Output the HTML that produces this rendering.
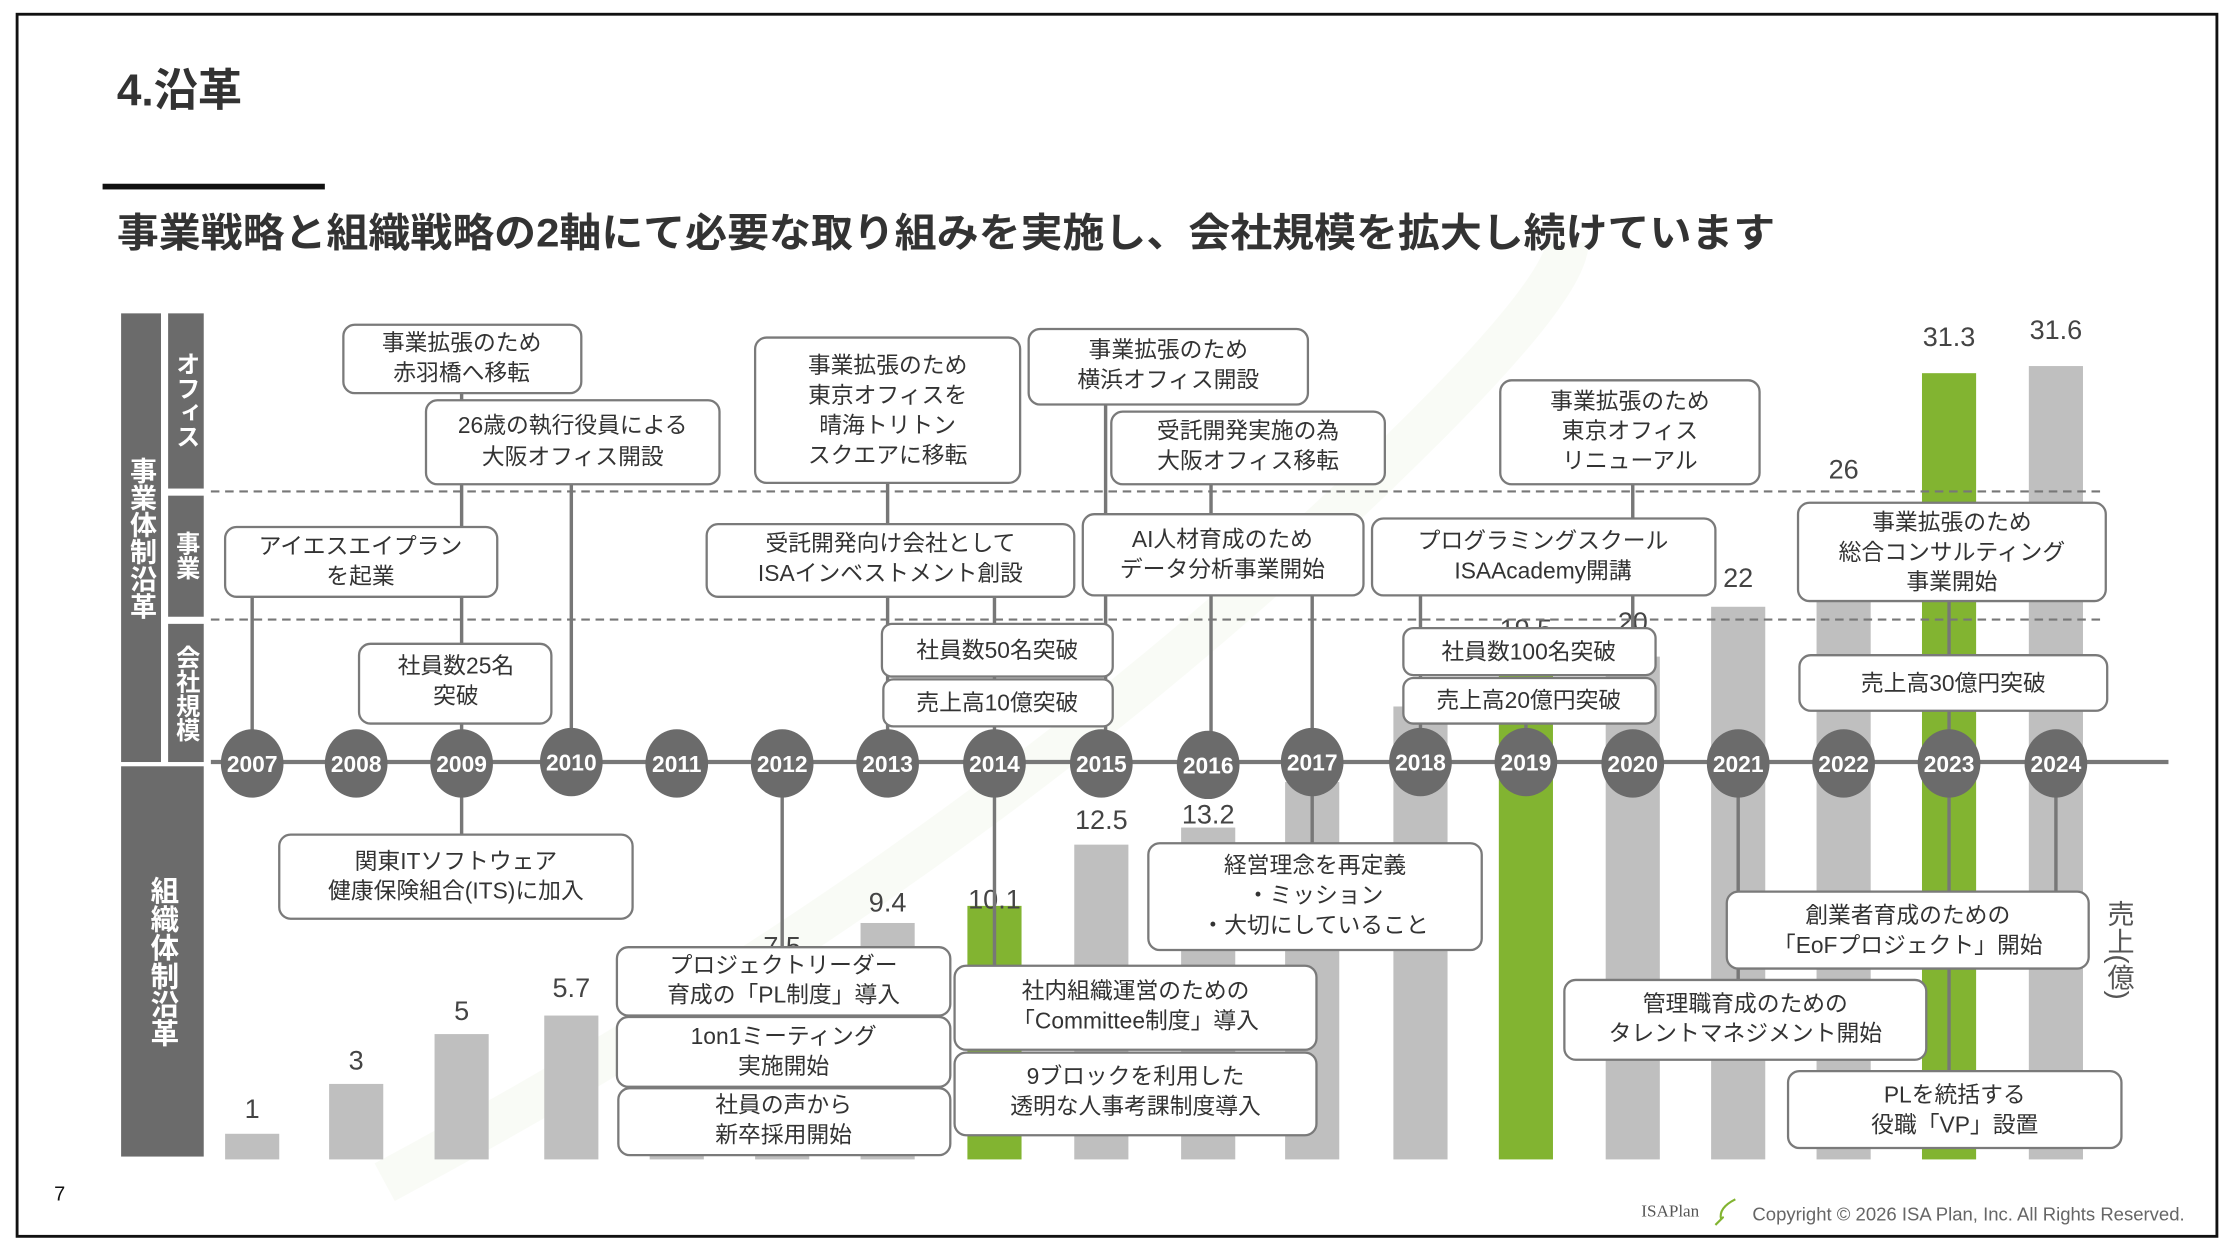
<!DOCTYPE html>
<html><head><meta charset="utf-8"><style>
html,body{margin:0;padding:0;background:#fff;}
svg{display:block;}
text{font-family:"Liberation Sans","Noto Sans CJK JP",sans-serif;}
.b{fill:#fff;stroke:#7a7a7a;stroke-width:1.6;}
.t{font-size:16px;fill:#333;text-anchor:middle;}
.c{stroke:#777;stroke-width:2.4;}
.yr{font-size:16px;font-weight:bold;fill:#fff;text-anchor:middle;}
.v{font-size:19px;fill:#444;text-anchor:middle;}
.vt{writing-mode:vertical-rl;font-weight:bold;fill:#fff;text-anchor:middle;}
</style></head><body>
<svg width="2234" height="1252" viewBox="0 0 1568 879" preserveAspectRatio="none" xmlns="http://www.w3.org/2000/svg">
<rect x="0" y="0" width="1568" height="879" fill="#fff"/>
<path d="M270 830 Q700 600 1000 300 Q1100 200 1100 170" stroke="#f4f8ee" stroke-width="30" fill="none" opacity="0.5"/>
<rect x="12" y="10" width="1544" height="858" fill="none" stroke="#111" stroke-width="2"/>
<text x="82" y="74" style="font-size:31px;font-weight:bold;fill:#333">4.沿革</text>
<rect x="72" y="129" width="156" height="4" fill="#111"/>
<text x="82" y="173" textLength="1164" lengthAdjust="spacingAndGlyphs" style="font-size:28px;font-weight:bold;fill:#333">事業戦略と組織戦略の2軸にて必要な取り組みを実施し、会社規模を拡大し続けています</text>

<rect x="85" y="220" width="28" height="315" fill="#6b6b6b"/>
<rect x="118" y="220" width="25" height="123" fill="#6b6b6b"/>
<rect x="118" y="348" width="25" height="85" fill="#6b6b6b"/>
<rect x="118" y="438" width="25" height="97" fill="#6b6b6b"/>
<rect x="85" y="538" width="58" height="274" fill="#6b6b6b"/>
<text class="vt" x="99" y="378" style="font-size:19px">事業体制沿革</text>
<text class="vt" x="130" y="281" style="font-size:17px">オフィス</text>
<text class="vt" x="130" y="390" style="font-size:17px">事業</text>
<text class="vt" x="130" y="487" style="font-size:17px">会社規模</text>
<text class="vt" x="114" y="675" style="font-size:20px">組織体制沿革</text>

<g fill="#bfbfbf">
<rect x="158" y="796" width="38" height="18"/>
<rect x="231" y="761" width="38" height="53"/>
<rect x="305" y="726" width="38" height="88"/>
<rect x="382" y="713" width="38" height="101"/>
<rect x="456" y="700" width="38" height="114"/>
<rect x="530" y="681" width="38" height="133"/>
<rect x="604" y="648" width="38" height="166"/>
<rect x="754" y="593" width="38" height="221"/>
<rect x="829" y="581" width="38" height="233"/>
<rect x="902" y="549" width="38" height="265"/>
<rect x="978" y="496" width="38" height="318"/>
<rect x="1127" y="461" width="38" height="353"/>
<rect x="1201" y="426" width="38" height="388"/>
<rect x="1275" y="355" width="38" height="459"/>
<rect x="1424" y="257" width="38" height="557"/>
</g>
<g fill="#82b431">
<rect x="679" y="636" width="38" height="178"/>
<rect x="1052" y="470" width="38" height="344"/>
<rect x="1349" y="262" width="38" height="552"/>
</g>
<g class="v">
<text x="177" y="785">1</text><text x="250" y="751">3</text><text x="324" y="716">5</text><text x="401" y="700">5.7</text>
<text x="549" y="671">7.5</text><text x="623" y="640">9.4</text><text x="698" y="638">10.1</text>
<text x="773" y="582">12.5</text><text x="848" y="578">13.2</text><text x="1071" y="448">19.5</text>
<text x="1146" y="443">20</text><text x="1220" y="412">22</text><text x="1294" y="336">26</text>
<text x="1368" y="243">31.3</text><text x="1443" y="238">31.6</text>
</g>
<text x="1487" y="667" style="writing-mode:vertical-rl;font-size:19px;fill:#555;text-anchor:middle">売上(億)</text>

<line x1="148" y1="345" x2="1478" y2="345" stroke="#777" stroke-width="1.5" stroke-dasharray="6,4"/>
<line x1="148" y1="435" x2="1478" y2="435" stroke="#777" stroke-width="1.5" stroke-dasharray="6,4"/>
<line x1="148" y1="535" x2="1522" y2="535" stroke="#777" stroke-width="3"/>

<g class="c">
<line x1="177" y1="419" x2="177" y2="536"/>
<line x1="324" y1="276" x2="324" y2="600"/>
<line x1="401" y1="340" x2="401" y2="536"/>
<line x1="549" y1="536" x2="549" y2="670"/>
<line x1="623" y1="339" x2="623" y2="536"/>
<line x1="698" y1="419" x2="698" y2="680"/>
<line x1="776" y1="284" x2="776" y2="536"/>
<line x1="850" y1="340" x2="850" y2="536"/>
<line x1="921" y1="418" x2="921" y2="600"/>
<line x1="997" y1="418" x2="997" y2="536"/>
<line x1="1071" y1="505" x2="1071" y2="536"/>
<line x1="1146" y1="340" x2="1146" y2="441"/>
<line x1="1220" y1="536" x2="1220" y2="690"/>
<line x1="1368" y1="422" x2="1368" y2="755"/>
<line x1="1443" y1="536" x2="1443" y2="628"/>
</g>

<g fill="#6b6b6b">
<ellipse cx="177" cy="536" rx="22" ry="24"/><ellipse cx="250" cy="536" rx="22" ry="24"/><ellipse cx="324" cy="536" rx="22" ry="24"/><ellipse cx="401" cy="535" rx="22" ry="24"/><ellipse cx="475" cy="536" rx="22" ry="24"/><ellipse cx="549" cy="536" rx="22" ry="24"/><ellipse cx="623" cy="536" rx="22" ry="24"/><ellipse cx="698" cy="536" rx="22" ry="24"/><ellipse cx="773" cy="536" rx="22" ry="24"/><ellipse cx="848" cy="537" rx="22" ry="24"/><ellipse cx="921" cy="535" rx="22" ry="24"/><ellipse cx="997" cy="535" rx="22" ry="24"/><ellipse cx="1071" cy="535" rx="22" ry="24"/><ellipse cx="1146" cy="536" rx="22" ry="24"/><ellipse cx="1220" cy="536" rx="22" ry="24"/><ellipse cx="1294" cy="536" rx="22" ry="24"/><ellipse cx="1368" cy="536" rx="22" ry="24"/><ellipse cx="1443" cy="536" rx="22" ry="24"/>
</g>
<g class="yr">
<text x="177" y="542">2007</text><text x="250" y="542">2008</text><text x="324" y="542">2009</text><text x="401" y="541">2010</text><text x="475" y="542">2011</text><text x="549" y="542">2012</text><text x="623" y="542">2013</text><text x="698" y="542">2014</text><text x="773" y="542">2015</text><text x="848" y="543">2016</text><text x="921" y="541">2017</text><text x="997" y="541">2018</text><text x="1071" y="541">2019</text><text x="1146" y="542">2020</text><text x="1220" y="542">2021</text><text x="1294" y="542">2022</text><text x="1368" y="542">2023</text><text x="1443" y="542">2024</text>
</g>

<g>
<rect class="b" x="241" y="228" width="167" height="48" rx="8"/>
<text class="t" x="324" y="246">事業拡張のため</text><text class="t" x="324" y="267">赤羽橋へ移転</text>
<rect class="b" x="299" y="281" width="206" height="59" rx="8"/>
<text class="t" x="402" y="304">26歳の執行役員による</text><text class="t" x="402" y="326">大阪オフィス開設</text>
<rect class="b" x="158" y="370" width="191" height="49" rx="8"/>
<text class="t" x="253" y="389">アイエスエイプラン</text><text class="t" x="253" y="410">を起業</text>
<rect class="b" x="252" y="452" width="135" height="56" rx="8"/>
<text class="t" x="320" y="473">社員数25名</text><text class="t" x="320" y="494">突破</text>
<rect class="b" x="530" y="237" width="186" height="102" rx="8"/>
<text class="t" x="623" y="262">事業拡張のため</text><text class="t" x="623" y="283">東京オフィスを</text><text class="t" x="623" y="304">晴海トリトン</text><text class="t" x="623" y="325">スクエアに移転</text>
<rect class="b" x="496" y="368" width="258" height="51" rx="8"/>
<text class="t" x="625" y="387">受託開発向け会社として</text><text class="t" x="625" y="408">ISAインベストメント創設</text>
<rect class="b" x="619" y="438" width="162" height="37" rx="7"/>
<text class="t" x="700" y="462">社員数50名突破</text>
<rect class="b" x="620" y="477" width="161" height="33" rx="7"/>
<text class="t" x="700" y="499">売上高10億突破</text>
<rect class="b" x="722" y="231" width="196" height="53" rx="8"/>
<text class="t" x="820" y="251">事業拡張のため</text><text class="t" x="820" y="272">横浜オフィス開設</text>
<rect class="b" x="780" y="289" width="192" height="51" rx="8"/>
<text class="t" x="876" y="308">受託開発実施の為</text><text class="t" x="876" y="329">大阪オフィス移転</text>
<rect class="b" x="760" y="361" width="197" height="57" rx="8"/>
<text class="t" x="858" y="384">AI人材育成のため</text><text class="t" x="858" y="405">データ分析事業開始</text>
<rect class="b" x="963" y="364" width="241" height="54" rx="8"/>
<text class="t" x="1083" y="385">プログラミングスクール</text><text class="t" x="1083" y="406">ISAAcademy開講</text>
<rect class="b" x="1053" y="267" width="182" height="73" rx="8"/>
<text class="t" x="1144" y="287">事業拡張のため</text><text class="t" x="1144" y="308">東京オフィス</text><text class="t" x="1144" y="329">リニューアル</text>
<rect class="b" x="985" y="441" width="177" height="33" rx="7"/>
<text class="t" x="1073" y="463">社員数100名突破</text>
<rect class="b" x="985" y="476" width="177" height="32" rx="7"/>
<text class="t" x="1073" y="497">売上高20億円突破</text>
<rect class="b" x="1262" y="353" width="216" height="69" rx="8"/>
<text class="t" x="1370" y="372">事業拡張のため</text><text class="t" x="1370" y="393">総合コンサルティング</text><text class="t" x="1370" y="414">事業開始</text>
<rect class="b" x="1263" y="460" width="216" height="39" rx="8"/>
<text class="t" x="1371" y="485">売上高30億円突破</text>

<rect class="b" x="196" y="586" width="248" height="59" rx="8"/>
<text class="t" x="320" y="610">関東ITソフトウェア</text><text class="t" x="320" y="631">健康保険組合(ITS)に加入</text>
<rect class="b" x="433" y="665" width="234" height="48" rx="8"/>
<text class="t" x="550" y="683">プロジェクトリーダー</text><text class="t" x="550" y="704">育成の「PL制度」導入</text>
<rect class="b" x="433" y="714" width="234" height="49" rx="8"/>
<text class="t" x="550" y="733">1on1ミーティング</text><text class="t" x="550" y="754">実施開始</text>
<rect class="b" x="434" y="764" width="233" height="47" rx="8"/>
<text class="t" x="550" y="781">社員の声から</text><text class="t" x="550" y="802">新卒採用開始</text>
<rect class="b" x="670" y="678" width="254" height="59" rx="8"/>
<text class="t" x="797" y="701">社内組織運営のための</text><text class="t" x="797" y="722">「Committee制度」導入</text>
<rect class="b" x="670" y="739" width="254" height="58" rx="8"/>
<text class="t" x="797" y="761">9ブロックを利用した</text><text class="t" x="797" y="782">透明な人事考課制度導入</text>
<rect class="b" x="806" y="592" width="234" height="75" rx="8"/>
<text class="t" x="923" y="613">経営理念を再定義</text><text class="t" x="923" y="634">・ミッション</text><text class="t" x="923" y="655">・大切にしていること</text>
<rect class="b" x="1098" y="688" width="254" height="56" rx="8"/>
<text class="t" x="1225" y="710">管理職育成のための</text><text class="t" x="1225" y="731">タレントマネジメント開始</text>
<rect class="b" x="1212" y="626" width="254" height="54" rx="8"/>
<text class="t" x="1339" y="648">創業者育成のための</text><text class="t" x="1339" y="669">「EoFプロジェクト」開始</text>
<rect class="b" x="1255" y="752" width="234" height="54" rx="8"/>
<text class="t" x="1372" y="774">PLを統括する</text><text class="t" x="1372" y="795">役職「VP」設置</text>
</g>

<text x="38" y="843" style="font-size:14px;fill:#111">7</text>
<text x="1152" y="854" style="font-family:'Liberation Serif',serif;font-size:12px;fill:#555">ISAPlan</text>
<path d="M1218 842 Q1206 848 1208 856 Q1212 852 1204 860" stroke="#82b431" stroke-width="1.5" fill="none"/>
<text x="1230" y="857" style="font-size:13px;fill:#666">Copyright © 2026 ISA Plan, Inc. All Rights Reserved.</text>
</svg>
</body></html>
